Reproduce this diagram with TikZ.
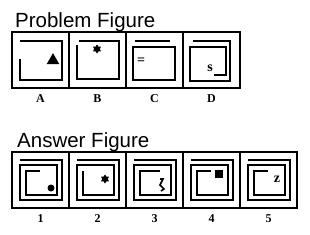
\documentclass[tikz,border=0pt]{standalone}
\usepackage{fontspec}
\setmainfont{Liberation Serif}
\newfontfamily\headfont{Liberation Sans}
\usetikzlibrary{positioning,shapes.geometric}
\tikzset{
  cell/.style={rectangle, draw, line width=1.6pt, minimum width=57pt, minimum height=56pt,
               inner sep=0pt, outer sep=0pt},
  wall/.style={line width=1.5pt},
  head/.style={font=\headfont\fontsize{20.5}{21}\selectfont, anchor=base west, inner sep=0pt},
  tag/.style={font=\bfseries\fontsize{12}{12}\selectfont, inner sep=0pt},
  glyph/.style={font=\bfseries\fontsize{14}{14}\selectfont, inner sep=0pt},
  blob/.style={fill, inner sep=0pt},
}

\begin{document}
\begin{tikzpicture}[x=1pt, y=-1pt]
\useasboundingbox (0,0) rectangle (310,234);
% headings
\node[head] (ptitle) at (15,27) {Problem Figure};
\node[head] (atitle) at (17,147) {Answer Figure};
% problem row
\node[cell] (pa) at (40.5,60) {};
\node[cell, right=0pt of pa] (pb) {};
\node[cell, right=0pt of pb] (pc) {};
\node[cell, right=0pt of pc] (pd) {};
% answer row
\node[cell] (a1) at (40.5,180) {};
\node[cell, right=0pt of a1] (a2) {};
\node[cell, right=0pt of a2] (a3) {};
\node[cell, right=0pt of a3] (a4) {};
\node[cell, right=0pt of a4] (a5) {};
% labels
\foreach \c/\t in {pa/A,pb/B,pc/C,pd/D} \node[tag, below=6pt of \c] (l\c) {\t};
\foreach \c/\t in {a1/1,a2/2,a3/3,a4/4,a5/5} \node[tag, below=6pt of \c] (l\c) {\t};

% problem figures
\begin{scope}[shift={(pa.north west)}]
  \draw[wall] (8,9) -- (50,9) -- (50,48) -- (8,48) -- (8,27);
  \node[blob, isosceles triangle, isosceles triangle apex angle=60, shape border rotate=90,
        minimum height=11pt] (tri) at (41,28.5) {};
\end{scope}
\begin{scope}[shift={(pb.north west)}]
  \draw[wall] (10,9) -- (50,9) -- (50,47) -- (8,47) -- (8,13);
  \node[blob, star, star points=6, star point ratio=1.6, minimum size=9pt] (stb) at (28,17) {};
\end{scope}
\begin{scope}[shift={(pc.north west)}]
  \draw[wall] (9,9) -- (44,9);
  \draw[wall] (7,15) rectangle (49,48);
  \node[glyph] (eq) at (15,29) {=};
\end{scope}
\begin{scope}[shift={(pd.north west)}]
  \draw[wall] (10,9) -- (47,9) -- (47,49) -- (7,49) -- (7,15) -- (43,15) -- (43,43) -- (31,43);
  \node[glyph] (ss) at (27,36) {s};
\end{scope}

% answer figures
\begin{scope}[shift={(a1.north west)}]
  \draw[wall] (8,8) -- (50,8) -- (50,48) -- (8,48) -- (8,13) -- (45,13) -- (45,43) -- (14,43)
    -- (14,19) -- (28,19);
  \node[blob, circle, minimum size=7pt] (dot) at (39,36) {};
\end{scope}
\begin{scope}[shift={(a2.north west)}]
  \draw[wall] (8,8) -- (50,8) -- (50,48) -- (8,48) -- (8,13) -- (45,13) -- (45,43) -- (14,43)
    -- (14,19);
  \node[blob, star, star points=6, star point ratio=1.6, minimum size=9pt] (st2) at (36,27) {};
\end{scope}
\begin{scope}[shift={(a3.north west)}]
  \draw[wall] (8,8) -- (50,8) -- (50,48) -- (8,48) -- (8,13) -- (45,13) -- (45,43) -- (14,43)
    -- (14,19) -- (34,19);
  \coordinate (zg) at (36,33);
  \draw[line width=1.6pt] ([shift={(-2,-6)}]zg) -- ([shift={(1,-6)}]zg) -- ([shift={(-2,0)}]zg)
    -- ([shift={(2,4)}]zg) -- ([shift={(-1,6)}]zg);
\end{scope}
\begin{scope}[shift={(a4.north west)}]
  \draw[wall] (8,8) -- (50,8) -- (50,48) -- (8,48) -- (8,13) -- (45,13) -- (45,43) -- (14,43)
    -- (14,19) -- (28,19);
  \node[blob, rectangle, minimum size=7.5pt] (sq) at (36,22) {};
\end{scope}
\begin{scope}[shift={(a5.north west)}]
  \draw[wall] (8,8) -- (50,8) -- (50,48) -- (8,48) -- (8,13) -- (45,13) -- (45,43) -- (14,43)
    -- (14,19) -- (28,19);
  \node[glyph] (zv) at (37,27) {z};
\end{scope}
\end{tikzpicture}
\end{document}
